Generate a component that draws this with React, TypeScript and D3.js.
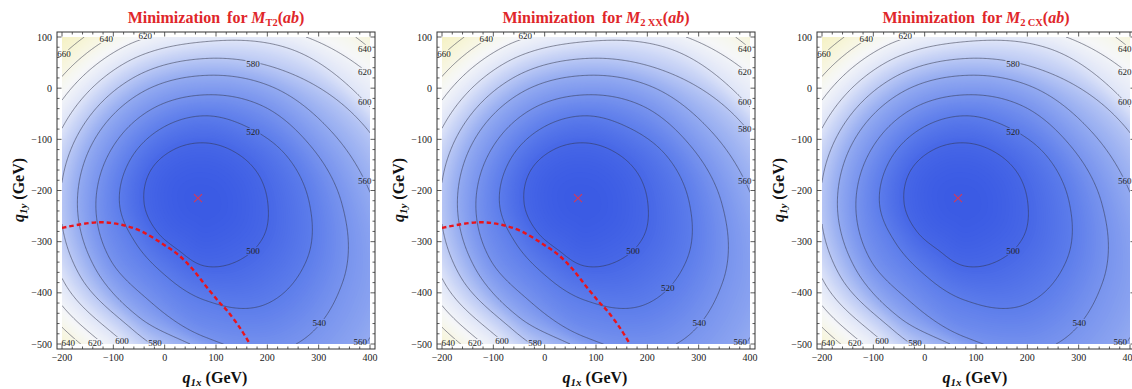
import React, { useMemo } from "react";
import * as d3 from "d3";

// ---- Minimisation field: contour rings traced around a common centre ----
// Each ring gives the distance (GeV) from the centre to the contour at the
// listed polar angles (degrees, counter-clockwise from the +q1x axis).
const centerQx = 80;
const centerQy = -225;
const fieldMin = 487;
const contourLevels = [500, 520, 540, 560, 580, 600, 620, 640, 660];
const ringAngles = [0, 30, 60, 90, 120, 150, 180, 210, 240, 270, 300, 330];
const ring500 = [121, 117, 115, 118, 122, 125, 120, 110, 106, 123, 129, 130];
const ring520 = [202, 183, 170, 171, 170, 170, 168, 157, 161, 190, 229, 226];
const ring540 = [265, 232, 220, 212, 212, 212, 214, 216, 220, 262, 325, 308];
const ring560 = [328, 282, 262, 250, 250, 250, 250, 250, 258, 290, 415, 400];
const ring580 = [390, 338, 300, 283, 283, 283, 283, 283, 285, 340, 470, 450];
const ring600 = [435, 372, 345, 316, 316, 316, 316, 316, 316, 385, 520, 500];
const ring620 = [480, 420, 378, 345, 345, 345, 345, 345, 345, 425, 570, 550];
const ring640 = [520, 455, 425, 374, 374, 374, 374, 374, 374, 465, 620, 600];
const ring660 = [560, 490, 455, 402, 402, 402, 402, 402, 402, 505, 670, 650];
const rings = [ring500, ring520, ring540, ring560, ring580, ring600, ring620, ring640, ring660];

const xTicks = [-200, -100, 0, 100, 200, 300, 400];
const yTicks = [-500, -400, -300, -200, -100, 0, 100];

// location of the minimum
const minQx = 65;
const minQy = -215;

// constraint boundary (red dashed)
const boundaryQx = [-200, -129, -84, -45, -6, 27, 53, 79, 105, 121, 147, 166];
const boundaryQy = [-273, -262, -267, -280, -303, -326, -352, -385, -417, -434, -469, -500];

const panelSubscripts = ["T2", "2\u2009XX", "2\u2009CX"];
const panelShowsBoundary = [true, true, false];

// contour labels: [level, q1x, q1y]
const labelsA: [number, number, number][] = [
  [660, -196, 67],
  [640, -114, 96],
  [620, -38, 102],
  [580, 172, 47],
  [640, 390, 77],
  [620, 390, 32],
  [600, 390, -27],
  [520, 172, -86],
  [560, 390, -181],
  [500, 172, -318],
  [540, 301, -459],
  [560, 381, -496],
  [640, -188, -498],
  [620, -136, -498],
  [600, -83, -494],
  [580, -19, -498],
];
const labelsB: [number, number, number][] = [
  [660, -196, 67],
  [640, -114, 96],
  [620, -38, 102],
  [640, 390, 77],
  [620, 390, 32],
  [600, 390, -27],
  [580, 390, -80],
  [560, 390, -181],
  [500, 172, -318],
  [520, 240, -390],
  [540, 301, -459],
  [560, 381, -496],
  [640, -188, -498],
  [620, -136, -498],
  [600, -83, -494],
  [580, -19, -498],
];
const panelLabels = [labelsA, labelsB, labelsA];

// colour ramp: deep blue at the minimum, white, pale yellow at the rim
const colorStops = [487, 520, 560, 600, 625, 645, 680];
const colorValues = ["#3a5ae4", "#5d7deb", "#94abf1", "#dfe5f8", "#f6f7f8", "#f7f6e2", "#f5f1c2"];

const PANEL_DX = 380;
const PLOT = { left: 62, right: 370, top: 37, bottom: 344 };
const FRAME = { left: 57, right: 375, top: 32, bottom: 349 };

const xS = d3.scaleLinear().domain([-200, 400]).range([PLOT.left, PLOT.right]);
const yS = d3.scaleLinear().domain([-500, 100]).range([PLOT.bottom, PLOT.top]);
const color = d3
  .scaleLinear<string>()
  .domain(colorStops)
  .range(colorValues)
  .interpolate(d3.interpolateRgb)
  .clamp(true);

// periodic Catmull-Rom through a ring table
function ringRadius(ring: number[], deg: number) {
  const n = ringAngles.length;
  const step = 360 / n;
  const u = deg / step;
  const i = Math.floor(u) % n;
  const t = u - Math.floor(u);
  const p0 = ring[(i - 1 + n) % n];
  const p1 = ring[i];
  const p2 = ring[(i + 1) % n];
  const p3 = ring[(i + 2) % n];
  return (
    p1 +
    0.5 * t * (p2 - p0 + t * (2 * p0 - 5 * p1 + 4 * p2 - p3 + t * (3 * (p1 - p2) + p3 - p0)))
  );
}

// monotone cubic (Fritsch-Carlson) through radial nodes, flat at the centre
function radialValue(xs: number[], ys: number[], r: number) {
  const n = xs.length;
  if (r >= xs[n - 1]) {
    const s = (ys[n - 1] - ys[n - 2]) / (xs[n - 1] - xs[n - 2]);
    return ys[n - 1] + s * (r - xs[n - 1]);
  }
  const d: number[] = [];
  for (let i = 0; i < n - 1; i++) d.push((ys[i + 1] - ys[i]) / (xs[i + 1] - xs[i]));
  const m: number[] = new Array(n);
  m[0] = 0;
  m[n - 1] = d[n - 2];
  for (let i = 1; i < n - 1; i++) m[i] = (d[i - 1] + d[i]) / 2;
  for (let i = 0; i < n - 1; i++) {
    const a = m[i] / d[i];
    const b = m[i + 1] / d[i];
    const h = a * a + b * b;
    if (h > 9) {
      const tau = 3 / Math.sqrt(h);
      m[i] = tau * a * d[i];
      m[i + 1] = tau * b * d[i];
    }
  }
  let k = 0;
  while (k < n - 2 && r > xs[k + 1]) k++;
  const hgt = xs[k + 1] - xs[k];
  const t = (r - xs[k]) / hgt;
  const t2 = t * t;
  const t3 = t2 * t;
  return (
    (2 * t3 - 3 * t2 + 1) * ys[k] +
    (t3 - 2 * t2 + t) * hgt * m[k] +
    (-2 * t3 + 3 * t2) * ys[k + 1] +
    (t3 - t2) * hgt * m[k + 1]
  );
}

function fieldAt(qx: number, qy: number) {
  const dx = qx - centerQx;
  const dy = qy - centerQy;
  const r = Math.hypot(dx, dy);
  let deg = (Math.atan2(dy, dx) * 180) / Math.PI;
  if (deg < 0) deg += 360;
  const xs = [0, ...rings.map((ring) => ringRadius(ring, deg))];
  const ys = [fieldMin, ...contourLevels];
  return radialValue(xs, ys, r);
}

const STEP = 2.5;
const N = Math.round(600 / STEP) + 1;

function useContours() {
  return useMemo(() => {
    const values: number[] = new Array(N * N);
    for (let r = 0; r < N; r++) {
      for (let c = 0; c < N; c++) {
        values[r * N + c] = fieldAt(-200 + c * STEP, 100 - r * STEP);
      }
    }
    const toPx = (p: number[]) => [
      xS(-200 + (p[0] - 0.5) * STEP),
      yS(100 - (p[1] - 0.5) * STEP),
    ];
    const mapGeom = (g: d3.ContourMultiPolygon) => ({
      type: "MultiPolygon" as const,
      coordinates: g.coordinates.map((poly) => poly.map((ring) => ring.map(toPx))),
    });
    const path = d3.geoPath();
    const fillLevels = d3.range(484, 692, 1);
    const fills = d3
      .contours()
      .size([N, N])
      .thresholds(fillLevels)(values)
      .map((g) => ({
        d: path(mapGeom(g) as any) || "",
        fill: color(g.value + 0.5),
      }));
    const lines = d3
      .contours()
      .size([N, N])
      .thresholds(contourLevels)(values)
      .map((g) => ({ d: path(mapGeom(g) as any) || "", value: g.value }));
    return { fills, lines };
  }, []);
}

const serif = "'Liberation Serif', 'Times New Roman', serif";

function Panel({ index, fills, lines }: { index: number; fills: any[]; lines: any[] }) {
  const ox = index * PANEL_DX;
  const maskId = `labelmask${index}`;
  const labels = panelLabels[index];
  const minorX = d3.range(-200, 401, 20).filter((v) => v % 100 !== 0);
  const minorY = d3.range(-500, 101, 20).filter((v) => v % 100 !== 0);
  const boundary = d3
    .line<number>()
    .x((_, i) => xS(boundaryQx[i]))
    .y((_, i) => yS(boundaryQy[i]))
    .curve(d3.curveCatmullRom)(boundaryQx);
  const cx = xS(minQx);
  const cy = yS(minQy);
  const titleX = (FRAME.left + FRAME.right) / 2;
  return (
    <g transform={`translate(${ox},0)`}>
      <defs>
        <mask id={maskId} maskUnits="userSpaceOnUse" x={0} y={0} width={400} height={389}>
          <rect x={0} y={0} width={400} height={389} fill="white" />
          {labels.map(([v, qx, qy], k) => (
            <rect key={k} x={xS(qx) - 7.5} y={yS(qy) - 4} width={15} height={8} fill="black" />
          ))}
        </mask>
      </defs>
      <g clipPath="url(#plotclip)">
        {fills.map((f, k) => (
          <path key={k} d={f.d} fill={f.fill} />
        ))}
        <g mask={`url(#${maskId})`}>
          {lines.map((l, k) => (
            <path key={k} d={l.d} fill="none" stroke="#33364a" strokeOpacity={0.85} strokeWidth={0.65} />
          ))}
        </g>
        {panelShowsBoundary[index] && (
          <path d={boundary || ""} fill="none" stroke="#e8141c" strokeWidth={2.4} strokeDasharray="4.5 3" />
        )}
        <g stroke="#d23a5a" strokeWidth={1.1}>
          <line x1={cx - 4} y1={cy - 4} x2={cx + 4} y2={cy + 4} />
          <line x1={cx - 4} y1={cy + 4} x2={cx + 4} y2={cy - 4} />
        </g>
      </g>
      <g fontFamily={serif} fontSize={9} fill="#222" textAnchor="middle">
        {labels.map(([v, qx, qy], k) => (
          <text key={k} x={xS(qx)} y={yS(qy) + 3}>
            {v}
          </text>
        ))}
      </g>
      {/* frame and ticks */}
      <rect
        x={FRAME.left}
        y={FRAME.top}
        width={FRAME.right - FRAME.left}
        height={FRAME.bottom - FRAME.top}
        fill="none"
        stroke="#333"
        strokeWidth={1}
      />
      <g stroke="#333" strokeWidth={0.8}>
        {xTicks.map((v) => (
          <g key={`xt${v}`}>
            <line x1={xS(v)} x2={xS(v)} y1={FRAME.bottom} y2={FRAME.bottom - 4.5} />
            <line x1={xS(v)} x2={xS(v)} y1={FRAME.top} y2={FRAME.top + 4.5} />
          </g>
        ))}
        {minorX.map((v) => (
          <g key={`xm${v}`}>
            <line x1={xS(v)} x2={xS(v)} y1={FRAME.bottom} y2={FRAME.bottom - 2.5} />
            <line x1={xS(v)} x2={xS(v)} y1={FRAME.top} y2={FRAME.top + 2.5} />
          </g>
        ))}
        {yTicks.map((v) => (
          <g key={`yt${v}`}>
            <line y1={yS(v)} y2={yS(v)} x1={FRAME.left} x2={FRAME.left + 4.5} />
            <line y1={yS(v)} y2={yS(v)} x1={FRAME.right} x2={FRAME.right - 4.5} />
          </g>
        ))}
        {minorY.map((v) => (
          <g key={`ym${v}`}>
            <line y1={yS(v)} y2={yS(v)} x1={FRAME.left} x2={FRAME.left + 2.5} />
            <line y1={yS(v)} y2={yS(v)} x1={FRAME.right} x2={FRAME.right - 2.5} />
          </g>
        ))}
      </g>
      <g fontFamily={serif} fontSize={10} fill="#222">
        {xTicks.map((v) => (
          <text key={`xl${v}`} x={xS(v)} y={361} textAnchor="middle">
            {v < 0 ? `\u2212${-v}` : v}
          </text>
        ))}
        {yTicks.map((v) => (
          <text key={`yl${v}`} x={52} y={yS(v) + 3.5} textAnchor="end">
            {v < 0 ? `\u2212${-v}` : v}
          </text>
        ))}
      </g>
      {/* axis titles */}
      <text x={215} y={383} textAnchor="middle" fontFamily={serif} fontWeight="bold" fontSize={16} fill="#111">
        <tspan fontStyle="italic">q</tspan>
        <tspan fontStyle="italic" fontSize={11} dy={3}>1x</tspan>
        <tspan dy={-3}> (GeV)</tspan>
      </text>
      <text
        transform="translate(24,190) rotate(-90)"
        textAnchor="middle"
        fontFamily={serif}
        fontWeight="bold"
        fontSize={16}
        fill="#111"
      >
        <tspan fontStyle="italic">q</tspan>
        <tspan fontStyle="italic" fontSize={11} dy={3}>1y</tspan>
        <tspan dy={-3}> (GeV)</tspan>
      </text>
      {/* panel title */}
      <text x={titleX} y={22.5} textAnchor="middle" fontFamily={serif} fontWeight="bold" fontSize={16} fill="#e0262a">
        <tspan>Minimization</tspan>
        <tspan dx={3}> for </tspan>
        <tspan fontStyle="italic">M</tspan>
        <tspan fontSize={10.5} dy={3}>{panelSubscripts[index]}</tspan>
        <tspan dy={-3}>(</tspan>
        <tspan fontStyle="italic">ab</tspan>
        <tspan>)</tspan>
      </text>
    </g>
  );
}

export default function App() {
  const { fills, lines } = useContours();
  return (
    <svg
      width={1132}
      height={389}
      viewBox="0 0 1132 389"
      style={{ position: "absolute", left: 0, top: 0, background: "#fff" }}
    >
      <defs>
        <clipPath id="plotclip" clipPathUnits="userSpaceOnUse">
          <rect x={PLOT.left} y={PLOT.top} width={PLOT.right - PLOT.left} height={PLOT.bottom - PLOT.top} />
        </clipPath>
      </defs>
      <rect x={0} y={0} width={1132} height={389} fill="#fff" />
      {[0, 1, 2].map((i) => (
        <Panel key={i} index={i} fills={fills} lines={lines} />
      ))}
    </svg>
  );
}
